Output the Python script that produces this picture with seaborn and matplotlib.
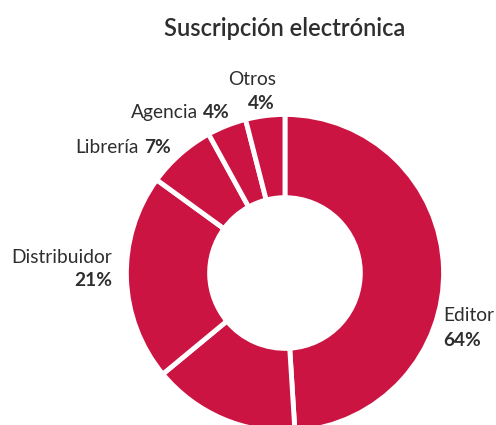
import matplotlib
matplotlib.use("Agg")
import matplotlib.pyplot as plt
import seaborn as sns

# slices, clockwise from 12 o'clock (Editor is drawn as two pieces)
slice_values = [49, 15, 21, 7, 4, 4]
slice_names = ["Editor", "", "Distribuidor", "Librería", "Agencia", "Otros"]
label_pcts = ["64%", "", "21%", "7%", "4%", "4%"]

RED = "#cc1442"
TXT = "#2e2e2e"

sns.set_theme(style="white")
plt.rcParams["font.family"] = ["Lato", "DejaVu Sans"]

fig = plt.figure(figsize=(4.96, 4.25), dpi=100)
ax = fig.add_axes([0, 0, 1, 1])

ax.pie(slice_values, colors=[RED] * len(slice_values), startangle=90,
       counterclock=False, radius=1.01,
       wedgeprops=dict(width=0.53, edgecolor="white", linewidth=3.5))

ax.set_xlim(-1.815, 1.344)
ax.set_ylim(-0.968, 1.739)
ax.set_aspect("auto")
ax.axis("off")

fs = 13.8
# stacked labels: name above, pct below
def stacked(x, y, name, pct, ha, dy=0.155, px=None):
    ax.text(x, y, name, ha=ha, va="center", fontsize=fs, color=TXT)
    ax.text(x if px is None else px, y - dy, pct, ha=ha, va="center",
            fontsize=fs, color=TXT, fontweight="bold")

# inline labels: name then pct
def inline(x, y, name, pct):
    ax.text(x - 0.015, y, name, ha="right", va="center", fontsize=fs, color=TXT)
    ax.text(x + 0.02, y, pct, ha="left", va="center", fontsize=fs,
            color=TXT, fontweight="bold")

stacked(1.006, -0.27, slice_names[0], label_pcts[0], "left", dy=0.16)
stacked(-1.10, 0.10, slice_names[2], label_pcts[2], "right", dy=0.145)
inline(-0.92, 0.80, slice_names[3], label_pcts[3])
inline(-0.54, 1.025, slice_names[4], label_pcts[4])
stacked(-0.21, 1.23, slice_names[5], label_pcts[5], "center", dy=0.15, px=-0.15)

ax.text(0.0, 1.56, "Suscripción electrónica", ha="center", va="center",
        fontsize=17, color=TXT, fontweight="semibold")

fig.savefig("out.png", dpi=100)
